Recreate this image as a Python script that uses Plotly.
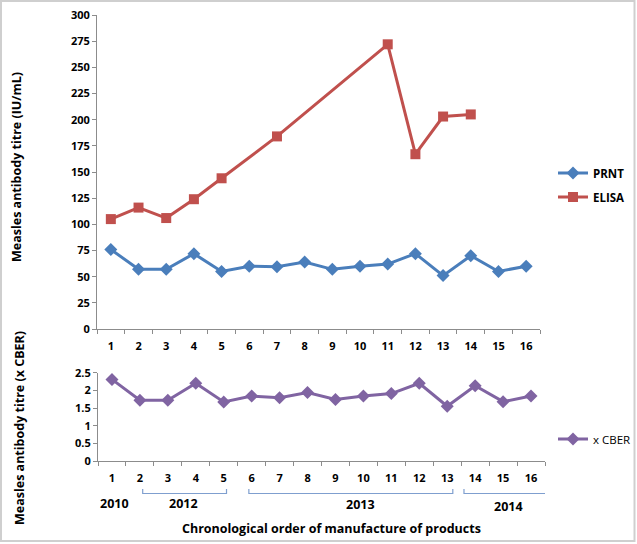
import plotly.graph_objects as go

batches = list(range(1, 17))
batch_labels = [str(b) for b in batches]
prnt = [76, 57, 57, 72, 55, 60, 59.5, 64, 57, 60, 62, 72, 51, 70, 55, 60]
elisa = [105, 116, 106, 124, 144, None, 184, None, None, None, 272, 167, 203, 205, None, None]
cber = [2.31, 1.72, 1.72, 2.20, 1.67, 1.84, 1.79, 1.94, 1.74, 1.84, 1.91, 2.20, 1.55, 2.13, 1.68, 1.84]

years = ["2010", "2012", "2013", "2014"]
year_text_pos = [1.1, 3.55, 9.9, 15.2]
year_spans = [None, (2.1, 5.1), (5.9, 13.2), (13.6, 16.6)]

W, H = 637, 544
def px(v):
    return v / W
def py(v):
    return (H - v) / H

BLUE = "#4A7EBB"
RED = "#C0504D"
PURPLE = "#8064A2"
AXC = "#8C8C8C"
FONT = "Open Sans"
tickfont = dict(family=FONT, size=11, color="#000000", weight="bold")

fig = go.Figure()
fig.add_trace(go.Scatter(x=batches, y=prnt, name="PRNT", mode="lines+markers",
                         line=dict(color=BLUE, width=3),
                         marker=dict(symbol="diamond", size=10, color=BLUE),
                         xaxis="x", yaxis="y", legend="legend"))
fig.add_trace(go.Scatter(x=batches, y=elisa, name="ELISA", mode="lines+markers",
                         connectgaps=True,
                         line=dict(color=RED, width=3),
                         marker=dict(symbol="square", size=10, color=RED),
                         xaxis="x", yaxis="y", legend="legend2"))
fig.add_trace(go.Scatter(x=batches, y=cber, name="x CBER", mode="lines+markers",
                         line=dict(color=PURPLE, width=3),
                         marker=dict(symbol="diamond", size=10, color=PURPLE),
                         xaxis="x2", yaxis="y2", legend="legend3"))

bounds = [b - 0.5 for b in batches] + [batches[-1] + 0.5]

def xax(domain, anchor):
    return dict(domain=domain, anchor=anchor, range=[0.5, 16.5], automargin=False,
                tickmode="array", tickvals=batches, ticktext=batch_labels,
                ticks="", showline=True, linecolor=AXC, linewidth=1,
                showgrid=False, zeroline=False, tickfont=tickfont,
                ticklabelstandoff=7,
                minor=dict(tickmode="array", tickvals=bounds, ticks="outside",
                           ticklen=4, tickcolor=AXC, showgrid=False))

def yax(domain, anchor, rng, dtick):
    return dict(domain=domain, anchor=anchor, range=rng, dtick=dtick, automargin=False,
                ticks="outside", ticklen=4, tickcolor=AXC,
                showline=True, linecolor=AXC, linewidth=1,
                showgrid=False, zeroline=False, tickfont=tickfont)

title_font = dict(family=FONT, size=12.5, color="#000", weight="bold")
annotations = [
    dict(text="Measles antibody titre (IU/mL)", textangle=-90, x=px(16), y=py(167),
         xref="paper", yref="paper", showarrow=False, xanchor="center", yanchor="middle",
         font=title_font),
    dict(text="Measles antibody titre (x CBER)", textangle=-90, x=px(19), y=py(428),
         xref="paper", yref="paper", showarrow=False, xanchor="center", yanchor="middle",
         font=title_font),
    dict(text="Chronological order of manufacture of products", x=px(331), y=py(528),
         xref="paper", yref="paper", showarrow=False, xanchor="center", yanchor="middle",
         font=title_font),
]
year_y = [503, 503, 504, 506]
for yr, xp, yy in zip(years, year_text_pos, year_y):
    annotations.append(dict(text=yr, x=xp, y=py(yy), xref="x2", yref="paper",
                            showarrow=False, xanchor="center", yanchor="middle",
                            font=title_font))

shapes = []
for span in year_spans:
    if span is None:
        continue
    a, b = span
    shapes.append(dict(type="path", xref="x2", yref="paper",
                       path=f"M {a},{py(489)} L {a},{py(493.5)} L {b},{py(493.5)} L {b},{py(489)}",
                       line=dict(color="#7F9FCF", width=1.2)))
shapes.append(dict(type="rect", xref="paper", yref="paper",
                   x0=px(1), x1=px(634.5), y0=py(541), y1=py(1),
                   line=dict(color="#CFCFCF", width=2)))

legfont = dict(family=FONT, size=11.5, color="#000")
fig.update_layout(
    width=W, height=H, margin=dict(l=0, r=0, t=0, b=0, autoexpand=False),
    paper_bgcolor="white", plot_bgcolor="white",
    xaxis=xax([px(97), px(540)], "y"),
    yaxis=yax([py(329), py(15)], "x", [0, 300], 25),
    xaxis2=xax([px(98), px(545)], "y2"),
    yaxis2=yax([py(461), py(372.7)], "x2", [0, 2.5], 0.5),
    legend=dict(x=px(553), y=py(173), xanchor="left", yanchor="middle",
                itemwidth=30, bgcolor="rgba(0,0,0,0)",
                font=dict(legfont, weight="bold")),
    legend2=dict(x=px(553), y=py(197), xanchor="left", yanchor="middle",
                 itemwidth=30, bgcolor="rgba(0,0,0,0)",
                 font=dict(legfont, weight="bold")),
    legend3=dict(x=px(553), y=py(439), xanchor="left", yanchor="middle",
                 itemwidth=30, bgcolor="rgba(0,0,0,0)", font=legfont),
    annotations=annotations, shapes=shapes, showlegend=True,
)
fig.write_html("out.html", config={"displayModeBar": False},
               post_script="document.body.style.margin='0';")
